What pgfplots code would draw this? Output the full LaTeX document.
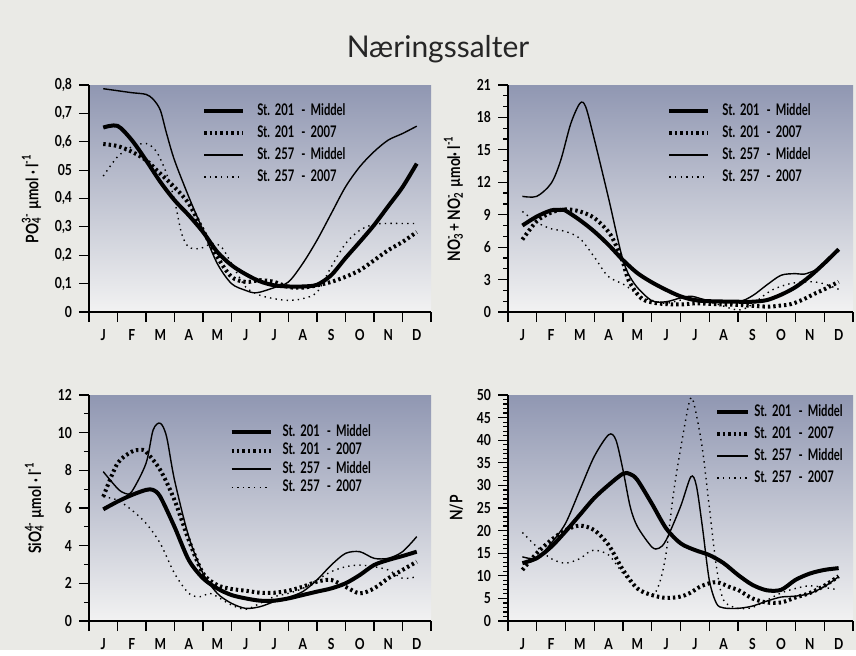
\documentclass[border=0pt]{standalone}
\usepackage{fontspec}
\setmainfont{Lato}
\newfontfamily\cond[FakeStretch=0.8]{Lato}
\newfontfamily\condleg[FakeStretch=0.7]{Lato}
\usepackage{pgfplots}
\pgfplotsset{compat=1.18}

\definecolor{pagebg}{RGB}{234,234,230}
\definecolor{axtop}{RGB}{144,151,178}
\definecolor{axbot}{RGB}{242,242,242}

\pgfplotsset{
  /pgf/number format/assume math mode=true,
  panel/.style={
    scale only axis, anchor=south west,
    xmin=0, xmax=12,
    xtick={0,...,12}, xticklabels={J,F,M,A,M,J,J,A,S,O,N,D},
    x tick label as interval,
    axis x line=bottom, axis y line=left,
    axis line style={-, line width=0.6pt},
    every outer x axis line/.append style={-},
    every outer y axis line/.append style={-},
    tick align=outside, major tick length=5pt, minor tick length=2.5pt,
    tick style={black, line width=0.6pt},
    axis background/.style={top color=axtop, bottom color=axbot},
    ticklabel style={font=\cond\bfseries\fontsize{7.6}{8.5}\selectfont},
    ylabel style={font=\cond\bfseries\fontsize{8.6}{9.5}\selectfont},
    legend cell align=left,
    legend style={draw=none, fill=none, anchor=north west, inner sep=0pt,
      font=\condleg\bfseries\fontsize{8}{8.5}\selectfont, row sep=3.6pt,
      nodes={inner sep=0pt},
      /tikz/every odd column/.append style={column sep=6pt}},
    legend image code/.code={\draw[##1] (0pt,0pt) -- (19.5pt,0pt);},
  },
  s201m/.style={black, line width=2pt, smooth},
  s2017/.style={black, line width=2pt, dash pattern=on 1.2pt off 1.5pt, smooth},
  s257m/.style={black, line width=0.7pt, smooth},
  s2577/.style={black, line width=0.7pt, dash pattern=on 0.7pt off 2.1pt, smooth},
}

\newcommand\st[2]{St.\hspace{2.5pt}#1\hspace{3.5pt}-\hspace{2.5pt}#2}
\newcommand\leg{\legend{\st{201}{Middel}, \st{201}{2007}, \st{257}{Middel}, \st{257}{2007}}}

\begin{document}
\begin{tikzpicture}
\fill[pagebg] (0pt,0pt) rectangle (428pt,325pt);
\node[anchor=base, font=\fontsize{15}{18}\selectfont, text=black!85] at (219pt,296pt) {Næringssalter};

% PO4
\begin{axis}[panel, at={(44.5pt,169pt)}, width=171pt, height=113.5pt,
  ymin=0, ymax=0.8,
  ytick={0,0.1,0.2,0.3,0.4,0.5,0.6,0.7,0.8},
  yticklabels={0,{0,1},{0,2},{0,3},{0,4},05,{0,6},{0,7},{0,8}},
  ylabel={PO\rlap{\textsubscript{4}}\textsuperscript{3-} µmol · l\textsuperscript{-1}},
  legend style={at={(0.33,0.92)}}]
\addplot[s201m] coordinates {(0.5,0.65)(1,0.656)(1.5,0.606)(2,0.535)(2.5,0.459)(3,0.394)(3.5,0.341)(4,0.282)(4.5,0.212)(5,0.165)(5.5,0.133)(6,0.108)(6.5,0.094)(7,0.09)(7.5,0.09)(8,0.096)(8.5,0.13)(9,0.19)(9.5,0.247)(10,0.306)(10.5,0.373)(11,0.44)(11.5,0.523)};
\addplot[s2017] coordinates {(0.5,0.592)(1,0.585)(1.5,0.565)(2,0.535)(2.5,0.488)(3,0.44)(3.5,0.382)(4,0.288)(4.5,0.194)(5,0.124)(5.5,0.106)(6,0.112)(6.5,0.106)(7,0.088)(7.5,0.086)(8,0.094)(8.5,0.106)(9,0.124)(9.5,0.147)(10,0.182)(10.5,0.218)(11,0.247)(11.5,0.282)};
\addplot[s257m] coordinates {(0.5,0.787)(1,0.78)(1.5,0.773)(2,0.767)(2.25,0.75)(2.5,0.712)(2.72,0.63)(3,0.535)(3.5,0.406)(4,0.288)(4.5,0.171)(5,0.1)(5.5,0.076)(5.76,0.068)(6,0.07)(6.5,0.086)(7,0.106)(7.5,0.171)(8,0.253)(8.5,0.347)(9,0.441)(9.5,0.512)(10,0.565)(10.5,0.606)(11,0.629)(11.5,0.655)};
\addplot[s2577] coordinates {(0.5,0.479)(1,0.547)(1.5,0.582)(2,0.594)(2.37,0.565)(2.72,0.488)(3,0.394)(3.25,0.276)(3.5,0.229)(3.9,0.224)(4.32,0.241)(4.65,0.229)(5,0.171)(5.5,0.088)(6,0.059)(6.5,0.047)(7,0.041)(7.5,0.047)(8,0.07)(8.5,0.159)(9,0.241)(9.5,0.288)(10,0.309)(10.5,0.312)(11,0.312)(11.5,0.312)};
\leg
\end{axis}

% NO3 + NO2
\begin{axis}[panel, at={(254pt,169pt)}, width=172.5pt, height=113.5pt,
  ymin=0, ymax=21, ytick={0,3,...,21}, minor ytick={0,...,21},
  ylabel={NO\rlap{\textsubscript{3}}\textsuperscript{-} + NO\rlap{\textsubscript{2}}\textsuperscript{-}\ \ µmol· l\textsuperscript{-1}},
  legend style={at={(0.461,0.92)}}]
\addplot[s201m] coordinates {(0.5,8.0)(1,8.83)(1.5,9.4)(1.85,9.45)(2,9.38)(2.5,8.5)(3,7.45)(3.5,6.2)(4,4.8)(4.5,3.6)(5,2.75)(5.5,2.05)(6,1.45)(6.5,1.1)(7,1.0)(8,0.95)(8.5,0.95)(9,1.1)(9.5,1.6)(10,2.3)(10.5,3.3)(11,4.5)(11.5,5.8)};
\addplot[s2017] coordinates {(0.5,6.7)(1,8.4)(1.5,9.2)(2,9.5)(2.5,9.3)(3,8.7)(3.5,7.4)(3.75,6.2)(4,4.6)(4.2,2.9)(4.64,1.26)(5.2,0.8)(6,0.7)(6.5,0.8)(7,0.75)(8,0.65)(9,0.5)(9.5,0.6)(9.86,0.74)(10.3,1.2)(10.67,1.7)(11,2.1)(11.5,2.8)};
\addplot[s257m] coordinates {(0.5,10.7)(1,10.7)(1.5,11.9)(1.83,14.0)(2.18,17.4)(2.5,19.3)(2.7,19.0)(3,16)(3.5,10.5)(4,4.8)(4.4,2.6)(5,1.05)(5.5,0.95)(6,1.3)(6.4,1.45)(7,1.05)(8,0.95)(8.5,1.5)(9,2.5)(9.5,3.4)(10,3.55)(10.3,3.5)(10.7,3.9)(11,4.6)(11.5,5.8)};
\addplot[s2577] coordinates {(0.5,9.3)(1,8.3)(1.5,7.7)(2,7.45)(2.5,6.8)(3,5.1)(3.48,3.3)(4.06,2.5)(4.64,1.4)(5.2,0.95)(5.5,0.8)(6,1.1)(6.38,1.26)(7.19,0.8)(8,0.18)(8.46,0.65)(9.16,2.0)(9.86,2.65)(10.55,2.8)(11,2.6)(11.5,2.1)};
\leg
\end{axis}

% SiO4
\begin{axis}[panel, at={(44.5pt,14.5pt)}, width=171pt, height=113pt,
  ymin=0, ymax=12, ytick={0,2,...,12}, minor ytick={0,...,12},
  ylabel={SiO\rlap{\textsubscript{4}}\textsuperscript{4-} µmol · l\textsuperscript{-1}},
  legend style={at={(0.41,0.87)}, row sep=1.8pt,
    /tikz/every odd column/.append style={column sep=5pt}}]
\addplot[s201m] coordinates {(0.5,5.93)(1,6.34)(1.5,6.69)(2,6.96)(2.25,6.96)(2.5,6.6)(3,5.0)(3.5,3.24)(4,2.27)(4.5,1.73)(5,1.38)(5.5,1.2)(6,1.08)(6.5,1.08)(7,1.2)(7.5,1.38)(8,1.56)(8.5,1.73)(9,2.0)(9.5,2.44)(10,2.97)(10.5,3.24)(11,3.45)(11.5,3.68)};
\addplot[s2017] coordinates {(0.5,6.6)(1,8.37)(1.5,8.99)(1.79,9.08)(2,8.99)(2.5,8.02)(3,6.42)(3.5,4.3)(4,2.53)(4.5,1.91)(5,1.7)(5.5,1.61)(6,1.5)(6.5,1.5)(7,1.61)(7.5,1.82)(8,2.09)(8.5,2.18)(9,1.82)(9.5,1.47)(10,1.73)(10.5,2.27)(11,2.71)(11.5,3.15)};
\addplot[s257m] coordinates {(0.5,7.93)(1,7.04)(1.26,6.78)(1.5,6.87)(2,8.37)(2.25,10.14)(2.5,10.5)(2.72,9.8)(3,7.49)(3.5,4.48)(4,2.53)(4.5,1.47)(5,0.94)(5.5,0.67)(6,0.76)(6.5,1.03)(7,1.26)(7.5,1.56)(8,2.18)(8.5,2.97)(9,3.59)(9.5,3.68)(10,3.33)(10.5,3.33)(11,3.68)(11.5,4.48)};
\addplot[s2577] coordinates {(0.5,6.6)(1,6.42)(1.5,5.89)(2,5.19)(2.5,4.12)(3,2.53)(3.5,1.47)(3.89,1.29)(4.24,1.47)(4.5,1.29)(5,0.85)(5.5,0.62)(6,0.94)(6.5,1.29)(7,1.47)(7.5,1.73)(8,2.18)(8.5,2.62)(9,2.88)(9.5,2.97)(10,2.88)(10.5,2.71)(11,2.27)(11.5,2.35)};
\leg
\end{axis}

% N/P
\begin{axis}[panel, at={(254pt,14.5pt)}, width=172.5pt, height=113pt,
  ymin=0, ymax=50, ytick={0,5,...,50}, minor ytick={0,...,50},
  ylabel={N/P},
  legend style={at={(0.6,0.96)},
    /tikz/every odd column/.append style={column sep=2pt}},
  legend image code/.code={\draw[#1] (0pt,0pt) -- (15.5pt,0pt);}]
\addplot[s201m] coordinates {(0.5,12.8)(1,13.9)(1.5,16.4)(2,19.8)(2.5,23.5)(3,27.2)(3.5,30.1)(4,32.6)(4.25,32.5)(4.5,31.2)(5,26)(5.5,20.5)(6,17.2)(6.5,15.7)(7,14.6)(7.5,12.8)(8,10.2)(8.5,8)(9,6.8)(9.5,6.9)(10,9.1)(10.5,10.5)(11,11.3)(11.5,11.7)};
\addplot[s2017] coordinates {(0.5,11.3)(1,15)(1.5,17.9)(2,20.1)(2.5,21.1)(3,20.1)(3.5,16.8)(4,11.3)(4.5,7.2)(5,5.75)(5.5,5.1)(6,5.4)(6.33,6.2)(6.75,7.8)(7.25,8.6)(7.75,7.4)(8,6.9)(8.5,5.0)(9,4.1)(9.5,4.1)(10,5.2)(10.5,6.2)(11,7.8)(11.5,9.9)};
\addplot[s257m] coordinates {(0.5,14.2)(1,13.9)(1.5,17.2)(2,21.6)(2.5,29)(3,36.4)(3.5,41.2)(3.75,40.1)(4,33.4)(4.25,25.3)(4.5,20.9)(5,16.4)(5.25,16.1)(5.5,17.9)(6,25.3)(6.36,31.9)(6.55,30)(6.76,20.9)(7,9.1)(7.25,3.9)(7.5,2.9)(8,2.8)(8.5,3.3)(9,4.4)(9.5,5.3)(10,5.5)(10.5,6.1)(11,7.6)(11.5,9.8)};
\addplot[s2577] coordinates {(0.5,19.6)(1,16.4)(1.5,13.8)(2,12.8)(2.5,13.8)(2.75,15)(3,15.7)(3.5,14.6)(4,10.5)(4.5,6.9)(4.85,5.8)(5.1,6.1)(5.3,9)(5.5,15)(5.75,28)(6,38)(6.3,48.3)(6.45,48.5)(6.75,38.6)(7,25.3)(7.25,12)(7.5,4.6)(8,2.8)(8.5,3.0)(9,4.6)(9.5,6.2)(10,7.2)(10.5,7.8)(11,7.4)(11.5,6.9)};
\leg
\end{axis}
\end{tikzpicture}
\end{document}
